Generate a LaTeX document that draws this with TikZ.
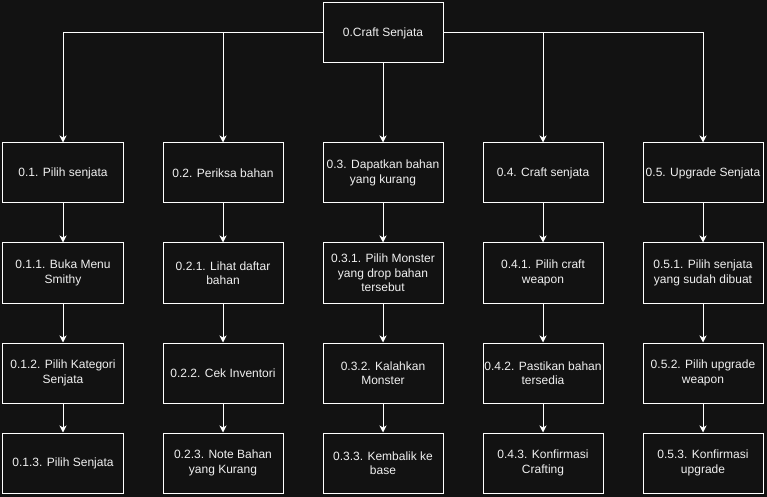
\documentclass[tikz,border=0pt]{standalone}
\usepackage{fontspec}
\setmainfont{Liberation Sans}
\usetikzlibrary{arrows.meta,positioning}
\definecolor{bgdark}{RGB}{18,18,18}
\definecolor{linewhite}{RGB}{255,255,255}
\definecolor{textwhite}{RGB}{240,240,240}
\tikzset{
  task/.style={draw=linewhite,line width=1bp,fill=bgdark,minimum width=120bp,
    minimum height=60bp,inner sep=0pt,align=center,text=textwhite,
    font=\fontsize{12bp}{14.5bp}\selectfont},
  flow/.style={draw=linewhite,line width=1bp,-{Stealth[length=7bp,width=7bp,inset=2bp]}},
}
\begin{document}
\begin{tikzpicture}[x=1bp,y=-1bp]
\fill[bgdark] (0,0) rectangle (767,497);
\useasboundingbox (0,0) rectangle (767,497);
% root
\node[task] (craft) at (383,33) {0.Craft Senjata};
% column 0.1
\node[task] (pilih) at (63,173) {0.1. Pilih senjata};
\node[task] (menu) at (63,273) {0.1.1. Buka Menu\\Smithy};
\node[task] (kategori) at (63,373) {0.1.2. Pilih Kategori\\Senjata};
\node[task] (pilihsj) at (63,463) {0.1.3. Pilih Senjata};
% column 0.2
\node[task] (periksa) at (223,173) {0.2. Periksa bahan};
\node[task] (daftar) at (223,273) {0.2.1. Lihat daftar\\bahan};
\node[task] (inventori) at (223,373) {0.2.2. Cek Inventori};
\node[task] (note) at (223,463) {0.2.3. Note Bahan\\yang Kurang};
% column 0.3
\node[task] (dapatkan) at (383,173) {0.3. Dapatkan bahan\\yang kurang};
\node[task] (monster) at (383,273) {0.3.1. Pilih Monster\\yang drop bahan\\tersebut};
\node[task] (kalahkan) at (383,373) {0.3.2. Kalahkan\\Monster};
\node[task] (kembali) at (383,463) {0.3.3. Kembalik ke\\base};
% column 0.4
\node[task] (craftsj) at (543,173) {0.4. Craft senjata};
\node[task] (weapon) at (543,273) {0.4.1. Pilih craft\\weapon};
\node[task] (pastikan) at (543,373) {0.4.2. Pastikan bahan\\tersedia};
\node[task] (konfcraft) at (543,463) {0.4.3. Konfirmasi\\Crafting};
% column 0.5
\node[task] (upgrade) at (703,173) {0.5. Upgrade Senjata};
\node[task] (dibuat) at (703,273) {0.5.1. Pilih senjata\\yang sudah dibuat};
\node[task] (upweapon) at (703,373) {0.5.2. Pilih upgrade\\weapon};
\node[task] (konfup) at (703,463) {0.5.3. Konfirmasi\\upgrade};

% root to columns
\draw[flow] (craft.west) -| (pilih);
\draw[flow] (craft.west) -| (periksa);
\draw[flow] (craft) -- (dapatkan);
\draw[flow] (craft.east) -| (craftsj);
\draw[flow] (craft.east) -| (upgrade);

% down the columns
\draw[flow] (pilih) -- (menu);
\draw[flow] (menu) -- (kategori);
\draw[flow] (kategori) -- (pilihsj);
\draw[flow] (periksa) -- (daftar);
\draw[flow] (daftar) -- (inventori);
\draw[flow] (inventori) -- (note);
\draw[flow] (dapatkan) -- (monster);
\draw[flow] (monster) -- (kalahkan);
\draw[flow] (kalahkan) -- (kembali);
\draw[flow] (craftsj) -- (weapon);
\draw[flow] (weapon) -- (pastikan);
\draw[flow] (pastikan) -- (konfcraft);
\draw[flow] (upgrade) -- (dibuat);
\draw[flow] (dibuat) -- (upweapon);
\draw[flow] (upweapon) -- (konfup);
\end{tikzpicture}
\end{document}
